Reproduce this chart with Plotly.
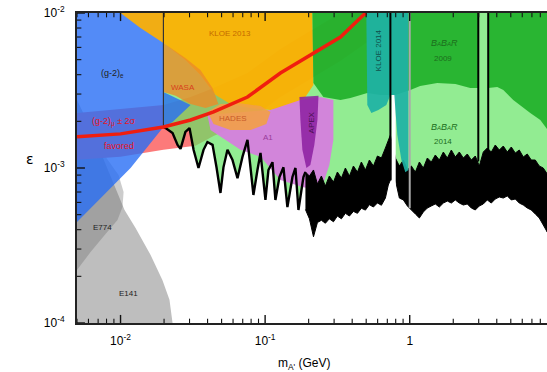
import numpy as np
import plotly.graph_objects as go

# ---------------- data (mass in GeV, epsilon) ----------------
e141_mass = [0.005, 0.005, 0.00621, 0.00764, 0.00896, 0.0100, 0.01066, 0.0127, 0.01614, 0.0195, 0.0218, 0.0229]
e141_eps = [1e-4, 2.75e-3, 1.81e-3, 1.126e-3, 7.77e-4, 6.22e-4, 5.36e-4, 4.1e-4, 2.75e-4, 1.89e-4, 1.41e-4, 1e-4]

e774_mass = [0.005, 0.00621, 0.00788, 0.00953, 0.01032, 0.0105, 0.00969, 0.00728, 0.005]
e774_eps = [2.2e-4, 2.87e-4, 3.75e-4, 4.62e-4, 5.6e-4, 7.0e-4, 9.0e-4, 1.31e-3, 1.76e-3]

gm2mu_up_mass = [0.005, 0.0198, 0.0305, 0.044, 0.0755, 0.1276, 0.2157, 0.332]
gm2mu_up_eps = [2.26e-3, 2.55e-3, 2.87e-3, 3.28e-3, 4.1e-3, 5.86e-3, 7.88e-3, 1e-2]
gm2mu_lo_mass = [0.005, 0.01, 0.0198, 0.033, 0.044, 0.0755, 0.1276, 0.2157, 0.332, 0.535, 0.861]
gm2mu_lo_eps = [1.13e-3, 1.18e-3, 1.31e-3, 1.39e-3, 1.61e-3, 2.01e-3, 2.87e-3, 3.86e-3, 4.9e-3, 6.7e-3, 1e-2]

gm2mu_mid_mass = [0.005, 0.01, 0.0198, 0.0305, 0.044, 0.0755, 0.1276, 0.2157, 0.332, 0.478, 0.50]
gm2mu_mid_eps = [1.59e-3, 1.66e-3, 1.84e-3, 2.04e-3, 2.30e-3, 2.87e-3, 4.1e-3, 5.52e-3, 7.0e-3, 9.7e-3, 1e-2]

gm2e_mass = [0.005, 0.0198, 0.0198, 0.0305, 0.0229, 0.0198, 0.01173, 0.005]
gm2e_eps = [1e-2, 1e-2, 3.09e-3, 2.55e-3, 1.98e-3, 1.84e-3, 1.0e-3, 4.49e-4]

kloe13_mass = [0.01, 0.2122, 0.2157, 0.190, 0.1496, 0.1089, 0.0792, 0.0575, 0.0454, 0.0357, 0.0281, 0.0198, 0.01374]
kloe13_eps = [1e-2, 1e-2, 3.43e-3, 2.87e-3, 2.51e-3, 2.37e-3, 2.44e-3, 2.59e-3, 2.96e-3, 3.98e-3, 4.98e-3, 6.4e-3, 8.0e-3]

wasa_mass = [0.0198, 0.0281, 0.0357, 0.0433, 0.0475, 0.0387, 0.0305, 0.024, 0.0198]
wasa_eps = [6.4e-3, 5.13e-3, 4.29e-3, 3.28e-3, 2.59e-3, 2.44e-3, 2.59e-3, 2.92e-3, 3.09e-3]

a1_mass = [0.0399, 0.0675, 0.1089, 0.1754, 0.241, 0.2965, 0.2965, 0.278, 0.2529, 0.2339, 0.184, 0.1276, 0.0929, 0.0675, 0.0419]
a1_eps = [2.20e-3, 2.30e-3, 2.37e-3, 2.75e-3, 2.87e-3, 2.75e-3, 1.52e-3, 1.045e-3, 8.0e-4, 7.2e-4, 7.5e-4, 8.37e-4, 1.18e-3, 1.31e-3, 1.76e-3]

hades_mass = [0.0399, 0.0491, 0.0675, 0.0929, 0.1089, 0.102, 0.0792, 0.0575, 0.044]
hades_eps = [2.30e-3, 2.59e-3, 2.62e-3, 2.51e-3, 2.30e-3, 1.92e-3, 1.76e-3, 1.76e-3, 1.92e-3]

apex_mass = [0.1727, 0.2339, 0.230, 0.219, 0.2056, 0.193, 0.181, 0.1754]
apex_eps = [2.87e-3, 2.92e-3, 2.04e-3, 1.41e-3, 1.045e-3, 1.0e-3, 1.31e-3, 2.04e-3]

babar09_mass = [0.2122, 2.98, 2.98, 2.62, 2.07, 1.55, 1.18, 1.01, 0.796, 0.626, 0.509, 0.389, 0.332, 0.2529, 0.2157, None,
                3.49, 9.0, 9.0, 8.0, 6.82, 5.20, 4.44, 4.03, 3.49]
babar09_eps = [1e-2, 1e-2, 3.28e-3, 3.28e-3, 3.48e-3, 3.53e-3, 3.38e-3, 3.18e-3, 2.96e-3, 2.96e-3, 3.05e-3, 2.83e-3, 2.75e-3, 2.87e-3, 3.53e-3, None,
               1e-2, 1e-2, 1.76e-3, 2.04e-3, 2.26e-3, 2.75e-3, 3.18e-3, 3.33e-3, 3.28e-3]

kloe14_mass = [0.501, 0.979, 0.979, 0.933, 0.875, 0.821, 0.796, 0.783, 0.735, 0.689, 0.607, 0.543, 0.509]
kloe14_eps = [1e-2, 1e-2, 9.7e-4, 9.4e-4, 1.13e-3, 1.63e-3, 2.37e-3, 2.96e-3, 2.96e-3, 2.55e-3, 2.37e-3, 2.26e-3, 2.55e-3]

# BaBar 2014 limit: low-mass part (single curve)
zig_mass = [0.0198, 0.0205, 0.0229, 0.0248, 0.026, 0.0281, 0.030, 0.032, 0.0346, 0.0375, 0.0399, 0.0433,
            0.0461, 0.0491, 0.0515, 0.0549, 0.0594, 0.0644, 0.0697, 0.0755, 0.0792, 0.083, 0.0885, 0.0929,
            0.1005, 0.1054, 0.1124, 0.1178, 0.1256, 0.1339, 0.1426, 0.1545, 0.1621, 0.170, 0.184]
zig_eps = [1.84e-3, 1.81e-3, 1.68e-3, 1.41e-3, 1.33e-3, 1.71e-3, 1.81e-3, 1.31e-3, 1.0e-3, 1.31e-3, 1.47e-3, 1.41e-3,
           1.01e-3, 6.9e-4, 1.01e-3, 1.31e-3, 1.13e-3, 8.6e-4, 1.18e-3, 1.52e-3, 1.01e-3, 6.7e-4, 9.7e-4, 1.25e-3,
           6.22e-4, 9.7e-4, 1.09e-3, 6.22e-4, 8.75e-4, 1.01e-3, 5.6e-4, 8.75e-4, 1.0e-3, 5.36e-4, 8.75e-4]

# BaBar 2014 limit: high-mass dense fluctuation band (upper / lower envelopes)
band_mass = [0.190, 0.2025, 0.216, 0.230, 0.245, 0.261, 0.278, 0.297, 0.316, 0.337, 0.359, 0.383, 0.408, 0.435,
             0.463, 0.494, 0.526, 0.561, 0.598, 0.637, 0.679, 0.711, 0.735, 0.796, 0.848, 0.904, 0.963, 1.026,
             1.094, 1.166, 1.242, 1.324, 1.411, 1.503, 1.603, 1.708, 1.82, 1.94, 2.067, 2.203, 2.348, 2.502,
             2.666, 2.842, 3.029, 3.228, 3.44, 3.666, 3.906, 4.164, 4.437, 4.729, 5.04, 5.372, 5.724, 6.1,
             6.501, 6.927, 7.384, 7.869, 8.385, 8.935]
band_up = [9.42e-4, 8.88e-4, 9.71e-4, 7.88e-4, 8.88e-4, 7.65e-4, 8.88e-4, 8.12e-4, 9.42e-4, 8.62e-4, 1.0e-3, 8.88e-4,
           1.03e-3, 9.42e-4, 1.093e-3, 9.71e-4, 1.126e-3, 1.03e-3, 1.195e-3, 1.16e-3, 1.346e-3, 1.516e-3, 1.632e-3,
           1.16e-3, 1.03e-3, 1.126e-3, 9.71e-4, 1.03e-3, 9.42e-4, 1.093e-3, 1.0e-3, 1.16e-3, 1.093e-3, 1.213e-3,
           1.126e-3, 1.268e-3, 1.16e-3, 1.306e-3, 1.178e-3, 1.268e-3, 1.16e-3, 1.231e-3, 1.126e-3, 1.195e-3,
           1.03e-3, 1.268e-3, 1.346e-3, 1.268e-3, 1.407e-3, 1.306e-3, 1.386e-3, 1.268e-3, 1.366e-3, 1.249e-3,
           1.306e-3, 1.178e-3, 1.231e-3, 1.126e-3, 1.126e-3, 1.03e-3, 1.0e-3, 9.15e-4]
band_low = [5.40e-4, 4.70e-4, 3.60e-4, 4.45e-4, 4.60e-4, 4.40e-4, 4.70e-4, 4.50e-4, 4.90e-4, 4.70e-4, 5.10e-4, 4.90e-4,
            5.25e-4, 5.10e-4, 5.50e-4, 5.35e-4, 5.80e-4, 5.60e-4, 5.95e-4, 5.75e-4, 6.40e-4, 7.77e-4, 8.37e-4,
            8.37e-4, 6.40e-4, 6.22e-4, 5.69e-4, 5.36e-4, 5.05e-4, 4.76e-4, 5.20e-4, 5.52e-4, 5.69e-4, 5.86e-4,
            5.60e-4, 5.94e-4, 6.12e-4, 5.94e-4, 6.22e-4, 5.94e-4, 5.77e-4, 5.86e-4, 5.52e-4, 5.36e-4, 5.69e-4,
            5.86e-4, 6.22e-4, 5.94e-4, 6.31e-4, 6.50e-4, 6.40e-4, 6.60e-4, 6.22e-4, 6.31e-4, 5.94e-4, 5.77e-4,
            5.52e-4, 5.36e-4, 5.05e-4, 4.76e-4, 4.29e-4, 3.86e-4]

# vetoed / edge lines of the BaBar 2014 search
edge_mass = [0.0198, 0.735, 2.98, 3.49]
edge_eps_low = [1.84e-3, 8.4e-4, 1.1e-3, 1.3e-3]
phi_mass = 1.0
phi_eps_low = 5.5e-4
rho_veto_mass = [0.748, 0.80]
rho_veto_eps = [1e-4, 3.0e-3]
eps_top = 1e-2
mass_right = 9.0

# axes
x_lim = [0.005, 8.9]
y_lim = [1e-4, 1e-2]
x_major = [0.01, 0.1, 1.0]
x_major_text = ["10<sup>-2</sup>", "10<sup>-1</sup>", "1"]
y_major = [1e-4, 1e-3, 1e-2]
y_major_text = ["10<sup>-4</sup>", "10<sup>-3</sup>", "10<sup>-2</sup>"]
minor_digits = [2, 3, 4, 5, 6, 7, 8, 9]
x_decades = [1e-3, 1e-2, 1e-1, 1.0]
y_decades = [1e-4, 1e-3]

# labels
label_text = ["(g-2)<sub>e</sub>", "(g-2)<sub>μ</sub> ± 2σ", "favored", "KLOE 2013", "WASA", "HADES", "A1",
              "APEX", "KLOE 2014",
              "<i>B<span style='font-size:6px'>A</span>B<span style='font-size:6px'>A</span>R</i>", "2009",
              "<i>B<span style='font-size:6px'>A</span>B<span style='font-size:6px'>A</span>R</i>", "2014",
              "E774", "E141"]
label_mass = [0.0088, 0.00896, 0.0097, 0.0575, 0.0269, 0.0604, 0.1054, 0.209, 0.607, 1.73, 1.71, 1.73, 1.71, 0.0075, 0.01135]
label_eps = [4.1e-3, 1.98e-3, 1.39e-3, 7.43e-3, 3.33e-3, 2.10e-3, 1.585e-3, 1.98e-3, 5.77e-3, 6.4e-3, 5.1e-3, 1.84e-3, 1.49e-3, 4.16e-4, 1.56e-4]
label_color = ["#222222", "#e8141e", "#e8141e", "#c46a00", "#d8401e", "#c85a28", "#9a3c9a", "#4a1050", "#10504c",
               "#1c6e1c", "#1c6e1c", "#1c6e1c", "#1c6e1c", "#222222", "#222222"]
label_angle = [0, 0, 0, 0, 0, 0, 0, -90, -90, 0, 0, 0, 0, 0, 0]
label_size = [9, 9, 9, 8, 8, 8, 8, 8, 8, 9, 8, 9, 8, 8, 8]

# tick lengths expressed in decades (major / minor)
tick_dec_y = [0.052, 0.028]
tick_dec_x = [0.055, 0.030]

# ---------------- figure ----------------
fig = go.Figure()


def region(mx, my, color, line=None):
    fig.add_trace(go.Scatter(x=mx, y=my, fill="toself", fillcolor=color, mode="lines",
                             line=dict(width=0 if line is None else 1, color=line or color),
                             hoverinfo="skip", showlegend=False))


region(e141_mass, e141_eps, "rgb(190,190,190)")
region(e774_mass, e774_eps, "rgba(110,110,110,0.35)")
region(gm2mu_up_mass + gm2mu_lo_mass[::-1], gm2mu_up_eps + gm2mu_lo_eps[::-1], "rgb(252,122,122)")

lg_x = [edge_mass[0]] + zig_mass + band_mass + [mass_right, mass_right]
lg_y = [eps_top] + zig_eps + band_up + [band_up[-1], eps_top]
region(lg_x, lg_y, "rgba(100,228,100,0.7)")

region(gm2e_mass, gm2e_eps, "rgba(40,110,245,0.8)")
region(kloe13_mass, kloe13_eps, "rgba(255,176,0,0.92)")
region(wasa_mass, wasa_eps, "rgba(235,140,40,0.8)")
region(a1_mass, a1_eps, "rgba(214,128,222,0.95)")
region(hades_mass, hades_eps, "rgba(242,160,70,0.9)")
region(apex_mass, apex_eps, "rgba(140,30,160,0.85)")

# dense fluctuation band of the limit
region(band_mass + band_mass[::-1], band_up + band_low[::-1], "black", line="black")

# rho/omega veto strip
region([rho_veto_mass[0], rho_veto_mass[1], rho_veto_mass[1], rho_veto_mass[0]],
       [rho_veto_eps[0], rho_veto_eps[0], rho_veto_eps[1], rho_veto_eps[1]], "white")

region(babar09_mass, babar09_eps, "rgba(30,175,40,0.9)")
region(kloe14_mass, kloe14_eps, "rgba(30,178,165,0.92)")

# low-mass limit curve
fig.add_trace(go.Scatter(x=zig_mass + [band_mass[0]], y=zig_eps + [band_up[0]], mode="lines",
                         line=dict(color="black", width=2.4), hoverinfo="skip", showlegend=False))

# edge lines
for m, lo in zip(edge_mass, edge_eps_low):
    fig.add_trace(go.Scatter(x=[m, m], y=[lo, eps_top], mode="lines",
                             line=dict(color="black" if m > 0.1 else "#333333", width=2 if m > 0.1 else 1.2),
                             hoverinfo="skip", showlegend=False))
fig.add_trace(go.Scatter(x=[phi_mass, phi_mass], y=[phi_eps_low, eps_top], mode="lines",
                         line=dict(color="rgb(170,170,170)", width=2), hoverinfo="skip", showlegend=False))

# (g-2)_mu central curve
fig.add_trace(go.Scatter(x=gm2mu_mid_mass, y=gm2mu_mid_eps, mode="lines",
                         line=dict(color="rgb(240,30,15)", width=3.5), hoverinfo="skip", showlegend=False))

# inside tick marks drawn as short segments from the frame inward
x_minor = [d * k for d in x_decades for k in minor_digits if x_lim[0] <= d * k <= x_lim[1]]
y_minor = [d * k for d in y_decades for k in minor_digits]


def tick_segments(vals, dec_len):
    xs, ys = [], []
    for v in vals:  # bottom and top frame (x ticks)
        xs += [v, v, None, v, v, None]
        ys += [y_lim[0], y_lim[0] * 10 ** dec_len, None, y_lim[1], y_lim[1] / 10 ** dec_len, None]
    return xs, ys


for vals, dl, w in [(x_major, tick_dec_y[0], 1.4), (x_minor, tick_dec_y[1], 1.1)]:
    tx, ty = tick_segments(vals, dl)
    fig.add_trace(go.Scatter(x=tx, y=ty, mode="lines", line=dict(color="#111111", width=w),
                             hoverinfo="skip", showlegend=False))
for vals, dl, w in [(y_major, tick_dec_x[0], 1.4), (y_minor, tick_dec_x[1], 1.1)]:
    tx, ty = [], []
    for v in vals:
        tx += [x_lim[0], x_lim[0] * 10 ** dl, None]
        ty += [v, v, None]
    fig.add_trace(go.Scatter(x=tx, y=ty, mode="lines", line=dict(color="#111111", width=w),
                             hoverinfo="skip", showlegend=False))

for t, m, e, c, a, s in zip(label_text, label_mass, label_eps, label_color, label_angle, label_size):
    fig.add_annotation(x=np.log10(m), y=np.log10(e), xref="x", yref="y", text=t, showarrow=False,
                       textangle=a, font=dict(size=s, color=c, family="Liberation Sans, Arial"))

fig.add_annotation(x=-0.1, y=0.53, xref="paper", yref="paper", xanchor="center", yanchor="middle",
                   text="ε", showarrow=False, font=dict(size=14, color="black", family="DejaVu Sans"))
fig.add_annotation(x=0.485, y=-0.132, xref="paper", yref="paper", xanchor="center", yanchor="middle",
                   text="m<sub>A'</sub> (GeV)", showarrow=False,
                   font=dict(size=12, color="black", family="Liberation Sans, Arial"))

tfont = dict(size=12, color="black", family="Liberation Sans, Arial")
fig.update_layout(
    width=547, height=372, margin=dict(l=77, r=0, t=13, b=49),
    plot_bgcolor="white", paper_bgcolor="white",
    xaxis=dict(type="log", range=[np.log10(x_lim[0]), np.log10(x_lim[1])], showgrid=False, zeroline=False,
               showline=True, linecolor="#222222", linewidth=2, mirror=True, ticks="",
               tickmode="array", tickvals=x_major, ticktext=x_major_text, tickfont=tfont,
               ticklabelstandoff=6, automargin=False),
    yaxis=dict(type="log", range=[np.log10(y_lim[0]), np.log10(y_lim[1])], showgrid=False, zeroline=False,
               showline=True, linecolor="#222222", linewidth=2, ticks="",
               tickmode="array", tickvals=y_major, ticktext=y_major_text, tickfont=tfont,
               ticklabelstandoff=8, automargin=False),
)

# remove the browser's default page margin so the figure fills the window exactly; hide the mode bar
fig.write_html("out.html", config={"displayModeBar": False},
               post_script="document.body.style.margin='0px';")
